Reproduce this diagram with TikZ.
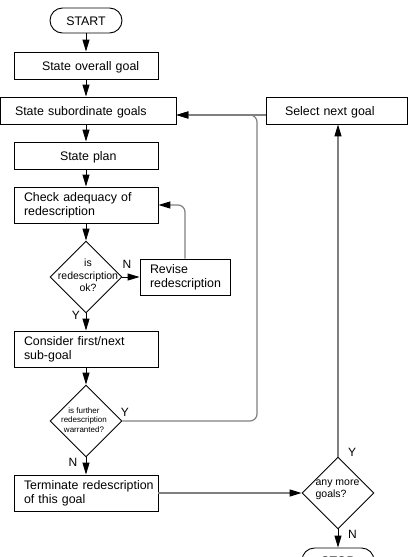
\documentclass[tikz,border=0pt]{standalone}
\usepackage{fontspec}
\setmainfont{Liberation Sans}
\usetikzlibrary{shapes.geometric,arrows.meta}

\begin{document}
\begin{tikzpicture}[x=1pt,y=-1pt,
  every node/.style={font=\fontsize{12.4}{14}\selectfont},
  box/.style={draw, line width=0.9pt, align=left, inner ysep=0pt},
  one/.style={box, minimum height=27pt, text height=9pt, text depth=0pt},
  two/.style={box, minimum height=36pt},
  term/.style={draw, line width=0.9pt, rounded corners=12.5pt, minimum width=72pt, minimum height=25pt, inner sep=0pt, text height=9pt, text depth=0pt},
  diam/.style={draw, diamond, line width=0.9pt, minimum width=72pt, minimum height=72pt, inner sep=0pt},
  dtxt/.style={align=center, inner sep=0pt},
  tip/.style={-{Triangle[length=12pt,width=7pt,color=black]}},
  spine/.style={line width=0.9pt, tip},
  loop/.style={line width=1.2pt, draw=black!50, rounded corners=7pt, tip},
  yn/.style={inner sep=0pt, font=\fontsize{12}{14}\selectfont}
]
\useasboundingbox (0,0) rectangle (408,557);
\clip (0,0) rectangle (408,557);

% process boxes
\node[term] (start) at (86,20.5) {START};
\node[one, text width=88pt, inner xsep=28pt] (overall) at (86,65.5) {\mbox{State overall goal}};
\node[one, text width=146pt, inner xsep=15pt] (sub) at (88,110.5) {State subordinate goals};
\node[one, text width=103.5pt, inner xsep=19pt] (select) at (336.75,110.5) {Select next goal};
\node[one, text width=52pt, inner xsep=46pt] (plan) at (86,155.5) {\mbox{State plan}};
\node[two, text width=124pt, inner xsep=10pt] (check) at (86,205) {Check adequacy of\\redescription};
\node[two, text width=70pt, inner xsep=10pt] (revise) at (185,277) {Revise\\\mbox{redescription}};
\node[two, text width=124pt, inner xsep=10pt] (consider) at (86,349) {Consider first/next\\sub-goal};
\node[two, text width=124pt, inner xsep=10pt] (terminate) at (86,493) {\mbox{Terminate redescription}\\of this goal};
\node[term] (stop) at (338,560.5) {STOP};

% decisions
\node[diam] (d1) at (86,277) {};
\node[dtxt, font=\fontsize{10.5}{12.3}\selectfont] (d1t) at (88,275.5) {is\\redescription\\ok?};
\node[diam] (d2) at (86,421) {};
\node[dtxt, font=\fontsize{8}{9.2}\selectfont] (d2t) at (84,420) {is further\\redescription\\warranted?};
\node[diam] (d3) at (338,493) {};
\node[dtxt, align=left, font=\fontsize{10.5}{12.4}\selectfont] (d3t) at (337.5,489.5) {any more\\goals?};

% main flow
\draw[spine] (start.south) -- (start.south |- overall.north);
\draw[spine] (overall.south) -- (overall.south |- sub.north);
\draw[spine] (overall.south |- sub.south) -- (plan.north);
\draw[spine] (plan.south) -- (check.north);
\draw[spine] (check.south) -- (d1.north);
\draw[spine] (d1.south) -- (consider.north);
\draw[spine] (consider.south) -- (d2.north);
\draw[spine] (d2.south) -- (terminate.north);
\draw[spine] (d1.east) -- (revise.west);
\draw[spine] (d3.south) -- (stop.north);

% feedback loops
\coordinate (j) at (257,115);
\draw[loop] (revise.north) |- (check.east);
\draw[loop] ([yshift=-4.5pt]select.west) -- ([yshift=-4.5pt]sub.east);
\draw[loop] (d2.east) -| (j) -- ([yshift=-4.5pt]sub.east);
\draw[loop] (terminate.east) -- (d3.west);
\draw[loop] (d3.north) -- (d3.north |- select.south);

% branch labels
\node[yn] (n1) at (127,264) {N};
\node[yn] (y1) at (76,315) {Y};
\node[yn] (y2) at (125,412) {Y};
\node[yn] (n2) at (73,462) {N};
\node[yn] (y3) at (352,452) {Y};
\node[yn] (n3) at (352.5,534) {N};
\end{tikzpicture}
\end{document}
